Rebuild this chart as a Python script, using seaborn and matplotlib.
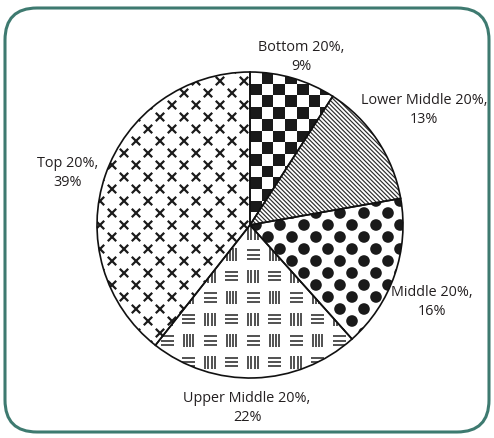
import numpy as np
import matplotlib
matplotlib.use("Agg")
import matplotlib.pyplot as plt
import seaborn as sns
from matplotlib.collections import LineCollection, PatchCollection
from matplotlib.patches import Rectangle, Circle, FancyBboxPatch

# Share of total income held by each quintile
groups = ["Bottom 20%", "Lower Middle 20%", "Middle 20%", "Upper Middle 20%", "Top 20%"]
shares = [9, 13, 16, 22, 39]

sns.set_theme(style="white")
plt.rcParams["font.family"] = ["Open Sans", "DejaVu Sans"]

W, H = 494, 438
fig = plt.figure(figsize=(W / 100, H / 100), dpi=100)
ax = fig.add_axes([0, 0, 1, 1])

# pie laid out in pixel-sized data units
CX, CY, R = 250, 213, 153
wedges, _ = ax.pie(
    shares, startangle=90, counterclock=False, radius=R, center=(CX, CY),
    colors=["none"] * len(shares),
    wedgeprops=dict(edgecolor="#111111", linewidth=1.2, zorder=5),
    frame=True,
)
ax.set_xlim(0, W)
ax.set_ylim(0, H)
ax.set_aspect("equal")
ax.axis("off")

x_lo, x_hi, y_lo, y_hi = CX - R - 30, CX + R + 30, CY - R - 30, CY + R + 30
INK = "#1a1a1a"


def clip_to(coll, wedge):
    coll.set_clip_path(wedge)
    coll.set_zorder(2)
    ax.add_collection(coll)


# checkerboard
def checker(wedge, size=11.7):
    rects = []
    nx0 = int((CX - x_lo) // size) + 1
    ny0 = int((CY + R - y_lo) // size) + 1
    for i in range(-nx0, nx0 + 2):
        for j in range(-ny0, 2):
            if (i + j) % 2 == 0:
                rects.append(Rectangle((CX + i * size, CY + R + j * size), size, size))
    clip_to(PatchCollection(rects, facecolor=INK, edgecolor="none"), wedge)


# diagonal stripes running down to the right
def stripes(wedge, step=4.3):
    segs = []
    span = (x_hi - x_lo) + (y_hi - y_lo)
    for c in np.arange(x_lo + y_lo - span, x_hi + y_hi + span, step):
        segs.append([(x_lo - 50, c - (x_lo - 50)), (x_hi + 50, c - (x_hi + 50))])
    clip_to(LineCollection(segs, colors="#2b2b2b", linewidths=0.85), wedge)


# staggered filled dots
def dots(wedge, step=12.0, rad=5.8):
    circ = []
    for i in range(-30, 31):
        for j in range(-30, 31):
            if (i + j) % 2 == 0:
                circ.append(Circle((CX + 6 + i * step, CY + j * step), rad))
    clip_to(PatchCollection(circ, facecolor=INK, edgecolor="none"), wedge)


# basket weave of vertical and horizontal bar groups
def weave(wedge, period=21.5):
    segs = []
    for i in range(-16, 17):
        for j in range(-16, 17):
            cx, cy = CX + 3 + i * period, CY - 8 + j * period
            if (i + j) % 2 == 0:
                for dx in (-4.8, -1.6, 1.6, 4.8):
                    segs.append([(cx + dx, cy - 6.5), (cx + dx, cy + 6.5)])
            else:
                for dy in (-4.2, 0.0, 4.2):
                    segs.append([(cx - 6.5, cy + dy), (cx + 6.5, cy + dy)])
    clip_to(LineCollection(segs, colors="#2b2b2b", linewidths=1.15), wedge)


# staggered x marks
def crosses(wedge, step=12.0, arm=4.2):
    segs = []
    for i in range(-30, 31):
        for j in range(-30, 31):
            if (i + j) % 2 == 0:
                x, y = CX - 6 + i * step, CY + j * step
                segs.append([(x - arm, y - arm), (x + arm, y + arm)])
                segs.append([(x - arm, y + arm), (x + arm, y - arm)])
    clip_to(LineCollection(segs, colors=INK, linewidths=1.6, capstyle="butt"), wedge)


for fill, w in zip([checker, stripes, dots, weave, crosses], wedges):
    fill(w)

# slice labels (pixel positions, measured from the top edge)
label_pos = [(301, 57), (424, 110), (432, 302), (247, 408), (68, 173)]
for g, s, (lx, ly) in zip(groups, shares, label_pos):
    ax.text(lx, H - ly, f"{g},\n{s}%", ha="center", va="center",
            fontsize=10.4, color="#231f20", linespacing=1.3, zorder=6)

# rounded frame
frame = FancyBboxPatch((5, 6), 484, 424,
                       boxstyle="round,pad=0,rounding_size=32",
                       facecolor="none", edgecolor="#3e7a70", linewidth=2.2,
                       clip_on=False, zorder=7)
ax.add_patch(frame)

fig.savefig("out.png", dpi=100, facecolor="white")
